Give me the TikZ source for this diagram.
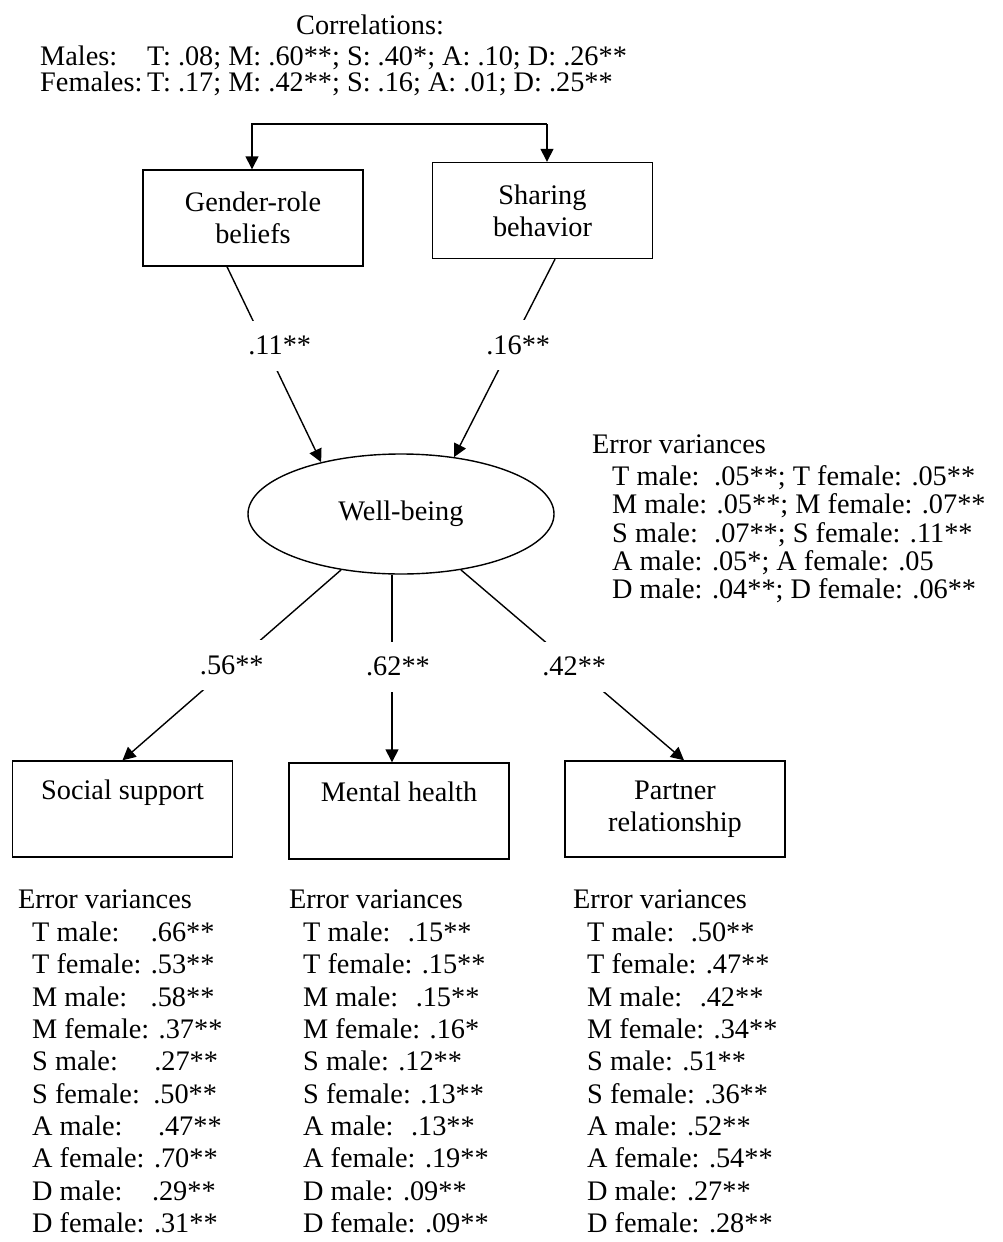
\documentclass[tikz,border=0pt]{standalone}
\usepackage{fontspec}
\setmainfont{Liberation Serif}
\usetikzlibrary{arrows.meta,shapes.geometric}
\newcommand\fsz{\fontsize{28.3}{32}\selectfont}
\tikzset{
  txt/.style={font=\fsz, inner sep=0pt, anchor=base west},
  box/.style={draw, line width=1.4pt, minimum width=220pt, minimum height=96pt, inner sep=0pt, align=center, font=\fsz},
  oval/.style={draw, ellipse, line width=1.4pt, minimum width=306pt, minimum height=120pt, inner sep=0pt, font=\fsz},
  lab/.style={fill=white, inner xsep=5pt, inner ysep=0pt, minimum height=50pt, font=\fsz},
  arr/.style={line width=1.4pt, -{Triangle[length=13pt,width=13pt]}},
}
\begin{document}
\begin{tikzpicture}[x=1pt,y=-1pt]
\fill[white] (0,0) rectangle (1002,1242);
\useasboundingbox (0,0) rectangle (1002,1242);
% correlations
\node[txt, anchor=base] (corr) at (370,34) {Correlations:};
\node[txt] (males) at (40,65) {\makebox[107pt][l]{Males:}T: .08; M: .60**; S: .40*; A: .10; D: .26**};
\node[txt] (females) at (40,91) {\makebox[107pt][l]{Females:}T: .17; M: .42**; S: .16; A: .01; D: .25**};
% boxes
\node[box] (g) at (253,218) {Gender-role\\beliefs};
\node[box] (s) at (542.5,210.5) {Sharing\\behavior};
\node[oval] (wb) at (401,514) {Well-being};
\node[box] (soc) at (122.5,809) {Social support\\\phantom{Xy}};
\node[box] (men) at (399,811) {Mental health\\\phantom{Xy}};
\node[box] (par) at (675,809) {Partner\\relationship};
% bracket
\coordinate (bl) at (252,124);
\coordinate (br) at (547,124);
\draw[arr] (br) -- (bl) -- (bl |- g.north);
\draw[arr] (br) -- (br |- s.north);
% paths
\draw[arr] ([xshift=-26pt]g.south) -- node[lab, pos=0.404, xshift=14.7pt] (l1) {.11**} (wb.147);
\draw[arr] ([xshift=12.5pt]s.south) -- node[lab, pos=0.434, xshift=7pt] (l2) {.16**} (wb.47);
\draw[arr] (wb.223) -- node[lab, pos=0.50] (l3) {.56**} (soc.north);
\draw[arr] ([xshift=-9pt]wb.south) -- node[lab, pos=0.49, xshift=6pt] (l4) {.62**} ([xshift=-7pt]men.north);
\draw[arr] (wb.317) -- node[lab, pos=0.508] (l5) {.42**} ([xshift=9pt]par.north);
% latent error variances
\node[txt] (ev0) at (592,453) {Error variances};
\node[txt] (ev1) at (612,485) {\makebox[102pt][l]{T male:}.05**; T female: .05**};
\node[txt] (ev2) at (612,513) {M male: .05**; M female: .07**};
\node[txt] (ev3) at (612,542) {\makebox[102pt][l]{S male:}.07**; S female: .11**};
\node[txt] (ev4) at (612,570) {A male: .05*; A female: .05};
\node[txt] (ev5) at (612,598) {D male: .04**; D female: .06**};
% indicator error variances
\node[txt] (lh) at (18,908) {Error variances};
\node[txt] (mh) at (289,908) {Error variances};
\node[txt] (rh) at (573,908) {Error variances};
\foreach \t [count=\k from 0] in {
  {T male: \hspace{22pt}.66**}, {T female: .53**}, {M male: \hspace{14pt}.58**}, {M female: .37**},
  {S male: \hspace{27pt}.27**}, {S female: \hspace{4pt}.50**}, {A male: \hspace{26pt}.47**}, {A female: .70**},
  {D male: \hspace{20pt}.29**}, {D female: .31**}}
  \node[txt] (L\k) at (32,{941.5+32.33*\k}) {\t};
\foreach \t [count=\k from 0] in {
  {T male: \hspace{8pt}.15**}, {T female: .15**}, {M male: \hspace{8pt}.15**}, {M female: .16*},
  {S male: .12**}, {S female: .13**}, {A male: \hspace{8pt}.13**}, {A female: .19**},
  {D male: .09**}, {D female: .09**}}
  \node[txt] (M\k) at (303,{941.5+32.33*\k}) {\t};
\foreach \t [count=\k from 0] in {
  {T male: \hspace{7pt}.50**}, {T female: .47**}, {M male: \hspace{8pt}.42**}, {M female: .34**},
  {S male: .51**}, {S female: .36**}, {A male: .52**}, {A female: .54**},
  {D male: .27**}, {D female: .28**}}
  \node[txt] (R\k) at (587,{941.5+32.33*\k}) {\t};
\end{tikzpicture}
\end{document}
